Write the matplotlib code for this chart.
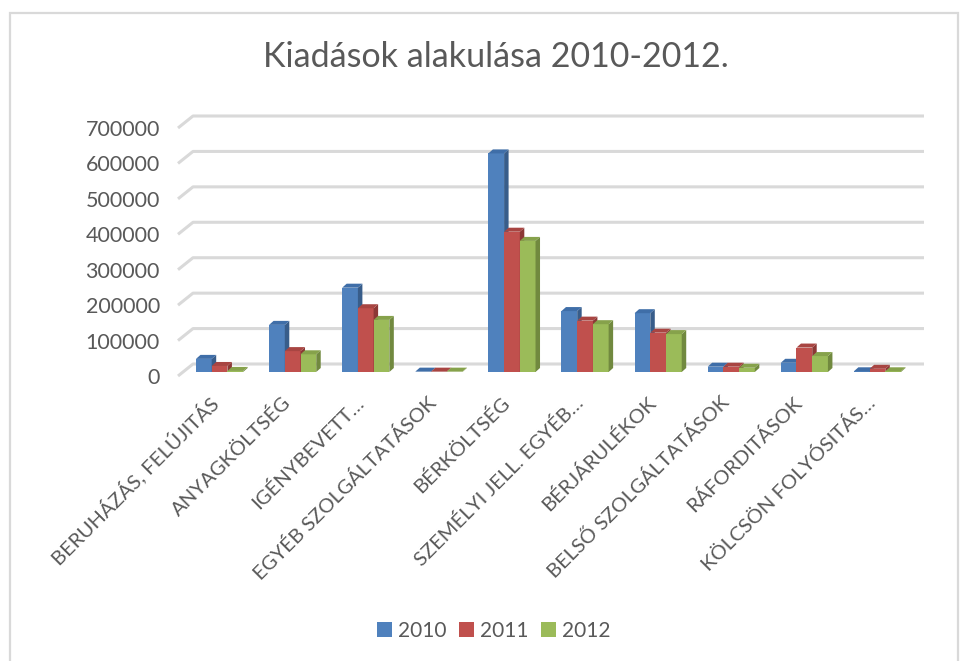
import matplotlib
matplotlib.use("Agg")
import matplotlib.pyplot as plt
from matplotlib.patches import Polygon, Rectangle
from matplotlib.transforms import ScaledTranslation
import numpy as np

categories = ['BERUHÁZÁS, FELÚJITÁS', 'ANYAGKÖLTSÉG', 'IGÉNYBEVETT…',
              'EGYÉB SZOLGÁLTATÁSOK', 'BÉRKÖLTSÉG', 'SZEMÉLYI JELL. EGYÉB…',
              'BÉRJÁRULÉKOK', 'BELSŐ SZOLGÁLTATÁSOK', 'RÁFORDITÁSOK',
              'KÖLCSÖN FOLYÓSITÁS…']
years = ['2010', '2011', '2012']
v2010 = [37000, 133000, 238000, 1000, 617000, 172000, 166000, 15000, 26000, 2000]
v2011 = [17000, 59000, 180000, 1000, 396000, 145000, 111000, 15000, 69000, 9000]
v2012 = [3000, 50000, 147000, 1000, 370000, 135000, 107000, 12000, 45000, 2000]
yticks = [0, 100000, 200000, 300000, 400000, 500000, 600000, 700000]

series = [v2010, v2011, v2012]
front_c = ['#4F81BD', '#C0504D', '#9BBB59']
side_c = ['#385D8A', '#8C3836', '#71893F']
top_c = ['#3F6EA8', '#A84542', '#86A24B']

FONT = ['Lato', 'DejaVu Sans']
TXT = '#595959'
plt.rcParams['font.family'] = FONT

W, H = 970, 661
fig = plt.figure(figsize=(W / 100, H / 100), dpi=100)
fig.patch.set_facecolor('white')

# frame border
fig.patches.append(Rectangle((10 / W, -0.05), (958 - 10) / W, (H - 13) / H + 0.05,
                             transform=fig.transFigure, fill=False,
                             edgecolor='#D9D9D9', lw=1.6))

L, R, Y0, Y1 = 178, 909, 376, 128
ax = fig.add_axes([L / W, (H - Y0) / H, (R - L) / W, (Y0 - Y1) / H])
n = len(categories)
ax.set_xlim(-0.5, n - 0.5)
ax.set_ylim(0, 700000)
for s in ax.spines.values():
    s.set_visible(False)
ax.set_facecolor('none')

pxx = n / (R - L)           # data units per pixel, x
pxy = 700000 / (Y0 - Y1)     # data units per pixel, y

# back wall gridlines with diagonal stubs
wdx, wdy = 15 * pxx, 12 * pxy
for t in yticks:
    ax.plot([-0.5, -0.5 + wdx, n - 0.5 + wdx], [t, t + wdy, t + wdy],
            color='#D9D9D9', lw=2.2, clip_on=False, zorder=1,
            solid_capstyle='butt')

# bars (pseudo 3D)
bw = 0.215
sx, sy = 5 * pxx, 4 * pxy     # bars sit slightly behind front plane
ddx, ddy = 4.5 * pxx, 4 * pxy  # bar depth
x = np.arange(n)
for k, vals in enumerate(series):
    xs = x + (k - 1) * bw + sx
    ax.bar(xs, vals, width=bw, bottom=sy, color=front_c[k], zorder=3 + k,
           linewidth=0, clip_on=False, label=years[k])
    for xi, v in zip(xs, vals):
        xl, xr = xi - bw / 2, xi + bw / 2
        side = Polygon([(xr, sy), (xr + ddx, sy + ddy), (xr + ddx, sy + v + ddy), (xr, sy + v)],
                       closed=True, facecolor=side_c[k], edgecolor='none',
                       zorder=3 + k, clip_on=False)
        top = Polygon([(xl, sy + v), (xr, sy + v), (xr + ddx, sy + v + ddy), (xl + ddx, sy + v + ddy)],
                      closed=True, facecolor=top_c[k], edgecolor='none',
                      zorder=3 + k, clip_on=False)
        ax.add_patch(side)
        ax.add_patch(top)

ax.set_yticks(yticks)
ax.set_yticklabels([str(t) for t in yticks], fontsize=15.5, color=TXT)
ax.tick_params(axis='y', length=0, pad=13)
ax.set_xticks(x)
ax.set_xticklabels(categories, rotation=45, ha='right', va='center',
                   rotation_mode='anchor', fontsize=14.6, color=TXT)
ax.tick_params(axis='x', length=0, pad=17)
for lab in ax.get_xticklabels():
    lab.set_transform(lab.get_transform() + ScaledTranslation(0, 0, fig.dpi_scale_trans))

fig.text(496 / W, 1 - 57 / H, 'Kiadások alakulása 2010-2012.', ha='center', va='center',
         fontsize=24.5, color=TXT)

leg = fig.legend(loc='center', bbox_to_anchor=(494 / W, 1 - 631 / H), ncol=3,
                 frameon=False, fontsize=15, handlelength=0.7, handleheight=0.7,
                 handletextpad=0.3, columnspacing=0.6)
for t in leg.get_texts():
    t.set_color(TXT)

fig.savefig('out.png', dpi=100, facecolor='white')
